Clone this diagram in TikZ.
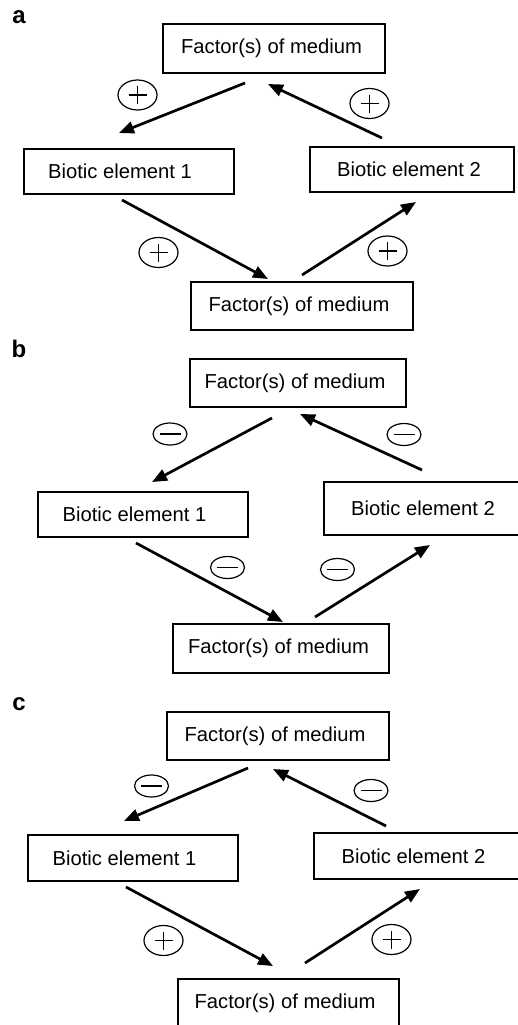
\documentclass[tikz,border=0pt]{standalone}
\usepackage{fontspec}
\setmainfont{Liberation Sans}
\usetikzlibrary{arrows.meta,shapes.geometric}
\tikzset{
  x=1pt,y=-1pt,
  boxnode/.style={draw,line width=1.3pt,rectangle,inner sep=0pt},
  txt/.style={inner sep=0pt,font=\fontsize{20.2}{24}\selectfont},
  panellabel/.style={inner sep=0pt,font=\fontsize{24}{28}\selectfont\bfseries},
  conn/.style={line width=2.7pt,-{Triangle[length=15pt,width=12pt]}},
  plussign/.style={draw,ellipse,line width=1.2pt,minimum width=39pt,minimum height=30pt,inner sep=0pt},
  minussign/.style={draw,ellipse,line width=1.2pt,minimum width=34pt,minimum height=22pt,inner sep=0pt},
  signline/.style={line width=1.2pt}
}
\newcommand{\plusat}[3]{%
  \node[plussign] (#1) at (#2,#3) {};
  \draw[signline] ([xshift=-9pt]#1.center) -- ([xshift=9pt]#1.center);
  \draw[signline] ([yshift=-9pt]#1.center) -- ([yshift=9pt]#1.center);
}
\newcommand{\minusat}[3]{%
  \node[minussign] (#1) at (#2,#3) {};
  \draw[signline] ([xshift=-10.5pt]#1.center) -- ([xshift=10.5pt]#1.center);
}
\begin{document}
\begin{tikzpicture}
\useasboundingbox (0,0) rectangle (518,1025);
\clip (0,0) rectangle (518,1025);
\fill[white] (0,0) rectangle (518,1025);

% ---------------- panel a ----------------
\node[panellabel] (la) at (19,17) {a};
\node[boxnode,minimum width=222pt,minimum height=49pt] (aT) at (274,48.5) {};
\node[txt] (aTt) at (271.5,48.5) {Factor(s) of medium};
\node[boxnode,minimum width=210pt,minimum height=45pt] (aB1) at (129,171.5) {};
\node[txt] (aB1t) at (120,171.5) {Biotic element 1};
\node[boxnode,minimum width=204pt,minimum height=45pt] (aB2) at (412,169.5) {};
\node[txt] (aB2t) at (409,169.5) {Biotic element 2};
\node[boxnode,minimum width=222pt,minimum height=48pt] (aBo) at (302,306) {};
\node[txt] (aBot) at (299,306) {Factor(s) of medium};

\coordinate (a1s) at (245,83);  \coordinate (a1e) at (119,133);
\coordinate (a2s) at (382,138); \coordinate (a2e) at (268,84);
\coordinate (a3s) at (122,200); \coordinate (a3e) at (268,279);
\coordinate (a4s) at (302,275); \coordinate (a4e) at (416,202);
\draw[conn] (a1s) -- (a1e);
\draw[conn] (a2s) -- (a2e);
\draw[conn] (a3s) -- (a3e);
\draw[conn] (a4s) -- (a4e);

\plusat{ap1}{137.5}{95}
\plusat{ap2}{369.5}{103.5}
\plusat{ap3}{158.5}{252.5}
\plusat{ap4}{387.5}{251}

% ---------------- panel b ----------------
\node[panellabel] (lb) at (19,349) {b};
\node[boxnode,minimum width=216pt,minimum height=48pt] (bT) at (298,383) {};
\node[txt] (bTt) at (295,383) {Factor(s) of medium};
\node[boxnode,minimum width=210pt,minimum height=45pt] (bB1) at (143,514.5) {};
\node[txt] (bB1t) at (134.5,514.5) {Biotic element 1};
\node[boxnode,minimum width=210pt,minimum height=53pt] (bB2) at (429,508.5) {};
\node[txt] (bB2t) at (423,508.5) {Biotic element 2};
\node[boxnode,minimum width=216pt,minimum height=49pt] (bBo) at (281,648.5) {};
\node[txt] (bBot) at (278.5,648.5) {Factor(s) of medium};

\coordinate (b1s) at (272,418); \coordinate (b1e) at (152,482);
\coordinate (b2s) at (422,470); \coordinate (b2e) at (300,414);
\coordinate (b3s) at (136,543); \coordinate (b3e) at (283,622);
\coordinate (b4s) at (315,617); \coordinate (b4e) at (430,545);
\draw[conn] (b1s) -- (b1e);
\draw[conn] (b2s) -- (b2e);
\draw[conn] (b3s) -- (b3e);
\draw[conn] (b4s) -- (b4e);

\minusat{bm1}{170}{434}
\minusat{bm2}{404}{434.5}
\minusat{bm3}{227.5}{567.5}
\minusat{bm4}{337.5}{569.5}

% ---------------- panel c ----------------
\node[panellabel] (lc) at (19,704) {c};
\node[boxnode,minimum width=222pt,minimum height=48pt] (cT) at (278,736) {};
\node[txt] (cTt) at (275,736) {Factor(s) of medium};
\node[boxnode,minimum width=210pt,minimum height=46pt] (cB1) at (133,858) {};
\node[txt] (cB1t) at (124.5,858) {Biotic element 1};
\node[boxnode,minimum width=210pt,minimum height=46pt] (cB2) at (419,856) {};
\node[txt] (cB2t) at (413.5,856) {Biotic element 2};
\node[boxnode,minimum width=221pt,minimum height=48pt] (cBo) at (288.5,1003) {};
\node[txt] (cBot) at (285,1003) {Factor(s) of medium};

\coordinate (c1s) at (248,768); \coordinate (c1e) at (124,821);
\coordinate (c2s) at (386,826); \coordinate (c2e) at (273,769);
\coordinate (c3s) at (126,887); \coordinate (c3e) at (273,966);
\coordinate (c4s) at (305,963); \coordinate (c4e) at (420,889);
\draw[conn] (c1s) -- (c1e);
\draw[conn] (c2s) -- (c2e);
\draw[conn] (c3s) -- (c3e);
\draw[conn] (c4s) -- (c4e);

\minusat{cm1}{151.5}{786}
\minusat{cm2}{371}{790.5}
\plusat{cp3}{163.5}{940.5}
\plusat{cp4}{391.5}{939.5}
\end{tikzpicture}
\end{document}
